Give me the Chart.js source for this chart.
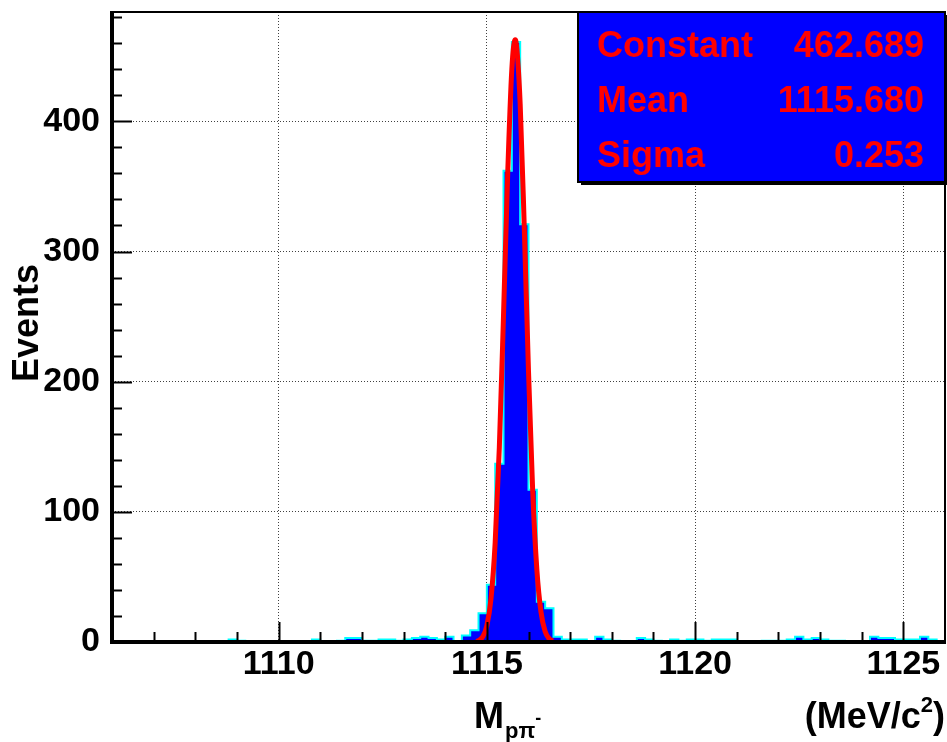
<!DOCTYPE html>
<html>
<head>
<meta charset="utf-8">
<script src="https://cdn.jsdelivr.net/npm/chart.js@4.4.1/dist/chart.umd.min.js"></script>
<style>
  html, body { margin: 0; padding: 0; background: #fff; }
  canvas { display: block; }
</style>
</head>
<body>
<canvas id="massChart" width="947" height="742"></canvas>
<script>
// Histogram binning (MeV/c^2)
const binLow = 1106;
const binHigh = 1126;
const binWidth = 0.2;

// Events per bin
const counts = [
    0, 0, 0, 0, 0, 0, 0, 0, 0, 0,
    0, 0, 0, 0, 2, 1, 0, 0, 0, 0,
    0, 0, 0, 0, 2, 0, 0, 1, 3, 3,
    1, 1, 2, 2, 1, 2, 3, 4, 3, 2,
    4, 0, 5, 9, 22, 44, 137, 362, 461, 321,
    117, 31, 26, 4, 2, 2, 2, 0, 4, 2,
    1, 0, 0, 3, 2, 1, 0, 2, 1, 2,
    2, 1, 2, 2, 2, 0, 0, 0, 1, 1,
    1, 2, 4, 2, 3, 2, 1, 1, 0, 0,
    0, 4, 3, 3, 2, 2, 2, 4, 2, 0
];

// Gaussian fit curve (red), sampled points
const fitX = [1114.75, 1114.8, 1114.9, 1115.0, 1115.1, 1115.2, 1115.3, 1115.4, 1115.5, 1115.6,
              1115.68, 1115.7, 1115.8, 1115.9, 1116.0, 1116.1, 1116.2, 1116.3, 1116.4, 1116.5, 1116.58];
const fitY = [0.5, 1.1, 4.0, 12.5, 33.4, 76.5, 149.7, 250.8, 359.2, 440.1,
              462.7, 461.3, 413.5, 317.0, 207.9, 116.6, 55.9, 23.0, 8.1, 2.4, 0.8];

// Axis labels
const xTickValues = [1110, 1115, 1120, 1125];
const yTickValues = [0, 100, 200, 300, 400];

// Fit results box
const statNames = ['Constant', 'Mean', 'Sigma'];
const statValues = ['462.689', '1115.680', '0.253'];

const yMax = 484;

// step line points: one per bin low edge + closing edge
const histPoints = counts.map((c, i) => ({ x: binLow + i * binWidth, y: c }));
histPoints.push({ x: binHigh, y: counts[counts.length - 1] });

const fitPoints = fitX.map((x, i) => ({ x: x, y: fitY[i] }));

const FONT = '"Liberation Sans", Arial, Helvetica, sans-serif';

const rootStyle = {
    id: 'rootStyle',
    afterDatasetsDraw(chart) {
        const { ctx, chartArea: a, scales: { x, y } } = chart;
        ctx.save();

        // inner tick marks
        ctx.strokeStyle = '#000';
        ctx.lineWidth = 2;
        for (let v = 1107; v < binHigh; v++) {
            const len = v % 5 === 0 ? 20 : 10;
            const px = Math.round(x.getPixelForValue(v)) + 0.5;
            ctx.beginPath();
            ctx.moveTo(px, a.bottom);
            ctx.lineTo(px, a.bottom - len);
            ctx.stroke();
        }
        for (let v = 20; v < yMax; v += 20) {
            const len = v % 100 === 0 ? 20 : 10;
            const py = Math.round(y.getPixelForValue(v)) + 0.5;
            ctx.beginPath();
            ctx.moveTo(a.left, py);
            ctx.lineTo(a.left + len, py);
            ctx.stroke();
        }

        // frame
        ctx.lineWidth = 2;
        ctx.strokeRect(a.left, a.top, a.right - a.left, a.bottom - a.top);
        ctx.lineWidth = 4;
        ctx.beginPath();
        ctx.moveTo(a.left, a.top - 1);
        ctx.lineTo(a.left, a.bottom);
        ctx.lineTo(a.right + 1, a.bottom);
        ctx.stroke();

        // stats box
        const bx = 578, by = a.top, bw = a.right - 578, bh = 170;
        ctx.fillStyle = '#000';
        ctx.fillRect(bx + 3, by + 3, bw, bh);
        ctx.fillStyle = '#0000ff';
        ctx.fillRect(bx, by, bw, bh);
        ctx.lineWidth = 2;
        ctx.strokeStyle = '#000';
        ctx.strokeRect(bx, by, bw, bh);
        ctx.fillStyle = '#ff0000';
        ctx.font = 'bold 36px ' + FONT;
        ctx.textBaseline = 'alphabetic';
        statNames.forEach((name, i) => {
            const base = 57 + i * 55;
            ctx.textAlign = 'left';
            ctx.fillText(name, 597, base);
            ctx.textAlign = 'right';
            ctx.fillText(statValues[i], 924, base);
        });

        // y title
        ctx.fillStyle = '#000';
        ctx.save();
        ctx.translate(38, 323);
        ctx.rotate(-Math.PI / 2);
        ctx.textAlign = 'center';
        ctx.font = 'bold 36px ' + FONT;
        ctx.fillText('Events', 0, 0);
        ctx.restore();

        // x title: M_{p pi^-}
        ctx.textAlign = 'left';
        ctx.font = 'bold 36px ' + FONT;
        let cx = 474;
        ctx.fillText('M', cx, 728);
        cx += ctx.measureText('M').width;
        ctx.font = 'bold 22px ' + FONT;
        ctx.fillText('p\u03c0', cx + 1, 738);
        cx += ctx.measureText('p\u03c0').width + 1;
        ctx.font = 'bold 18px ' + FONT;
        ctx.fillText('-', cx, 724);

        // units (MeV/c^2), right aligned at axis end
        ctx.font = 'bold 36px ' + FONT;
        const w1 = ctx.measureText('(MeV/c').width;
        const w3 = ctx.measureText(')').width;
        ctx.font = 'bold 22px ' + FONT;
        const w2 = ctx.measureText('2').width;
        let ux = a.right - (w1 + w2 + w3);
        ctx.font = 'bold 36px ' + FONT;
        ctx.fillText('(MeV/c', ux, 728);
        ctx.font = 'bold 22px ' + FONT;
        ctx.fillText('2', ux + w1, 712);
        ctx.font = 'bold 36px ' + FONT;
        ctx.fillText(')', ux + w1 + w2, 728);

        ctx.restore();
    }
};

const whiteBg = {
    id: 'whiteBg',
    beforeDraw(chart) {
        const ctx = chart.ctx;
        ctx.save();
        ctx.fillStyle = '#fff';
        ctx.fillRect(0, 0, chart.width, chart.height);
        ctx.restore();
    }
};

const ctx = document.getElementById('massChart').getContext('2d');
new Chart(ctx, {
    type: 'line',
    data: {
        datasets: [{
            label: 'fit',
            data: fitPoints,
            borderColor: '#ff0000',
            borderWidth: 5,
            pointRadius: 0,
            fill: false,
            cubicInterpolationMode: 'monotone',
            order: 0
        }, {
            label: 'hist',
            data: histPoints,
            stepped: 'before',
            borderColor: '#00ffff',
            borderWidth: 2,
            backgroundColor: '#0000ff',
            pointRadius: 0,
            fill: 'origin',
            order: 1
        }]
    },
    options: {
        responsive: false,
        animation: false,
        layout: { padding: { top: 12, right: 2, left: 0, bottom: 0 } },
        plugins: {
            legend: { display: false },
            tooltip: { enabled: false }
        },
        scales: {
            x: {
                type: 'linear',
                min: binLow,
                max: binHigh,
                afterBuildTicks: (scale) => {
                    scale.ticks = xTickValues.map(v => ({ value: v }));
                },
                afterFit: (scale) => {
                    scale.height = 100;
                    scale.paddingLeft = 0;
                    scale.paddingRight = 0;
                },
                ticks: {
                    padding: 2,
                    color: '#000',
                    maxRotation: 0,
                    autoSkip: false,
                    callback: (v) => String(v),
                    font: { family: FONT, size: 34, weight: 'bold' }
                },
                grid: { drawTicks: false, color: 'rgba(0,0,0,0.75)', lineWidth: 1 },
                border: { display: false, dash: [1, 2] }
            },
            y: {
                type: 'linear',
                min: 0,
                max: yMax,
                afterBuildTicks: (scale) => {
                    scale.ticks = yTickValues.map(v => ({ value: v }));
                },
                afterFit: (scale) => {
                    scale.width = 112;
                    scale.paddingTop = 0;
                    scale.paddingBottom = 0;
                },
                ticks: {
                    padding: 12,
                    color: '#000',
                    autoSkip: false,
                    font: { family: FONT, size: 34, weight: 'bold' }
                },
                grid: { drawTicks: false, color: 'rgba(0,0,0,0.75)', lineWidth: 1 },
                border: { display: false, dash: [1, 2] }
            }
        }
    },
    plugins: [whiteBg, rootStyle]
});
</script>
</body>
</html>
